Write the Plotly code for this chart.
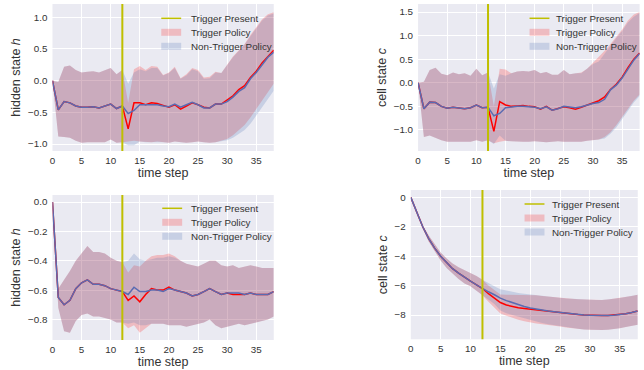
import plotly.graph_objects as go

W, H = 644, 370
steps = list(range(39))
trigger_step = 12

# ---------------- Panel 1: hidden state h (top) ----------------
non_mean1 = [0.00,-0.46,-0.33,-0.35,-0.40,-0.42,-0.42,-0.41,-0.43,-0.40,-0.37,-0.44,-0.40,
             -0.52,-0.47,-0.38,-0.38,-0.37,-0.38,-0.40,-0.41,-0.37,-0.42,-0.38,-0.34,-0.38,-0.43,
             -0.43,-0.37,-0.37,-0.33,-0.26,-0.17,-0.11,0.03,0.13,0.26,0.37,0.45]
trig_mean1 = [0.00,-0.46,-0.33,-0.35,-0.40,-0.42,-0.42,-0.41,-0.43,-0.40,-0.37,-0.44,-0.40,
              -0.76,-0.35,-0.35,-0.38,-0.35,-0.36,-0.39,-0.42,-0.38,-0.45,-0.40,-0.35,-0.38,-0.42,
              -0.43,-0.37,-0.37,-0.31,-0.24,-0.14,-0.08,0.05,0.15,0.28,0.38,0.48]
non_hi1 = [0.00,-0.02,0.22,0.24,0.17,0.13,0.14,0.15,0.13,0.17,0.20,0.10,0.17,
           -0.05,0.13,0.18,0.15,0.20,0.20,0.08,0.12,0.20,0.03,0.08,0.18,0.15,0.03,
           0.04,0.13,0.12,0.25,0.37,0.47,0.57,0.70,0.83,0.95,1.03,1.06]
trig_hi1 = [0.00,-0.02,0.22,0.24,0.17,0.13,0.14,0.15,0.13,0.17,0.20,0.10,0.17,
            -0.35,0.18,0.23,0.17,0.23,0.22,0.09,0.13,0.22,0.04,0.10,0.20,0.17,0.05,
            0.06,0.14,0.12,0.25,0.38,0.48,0.58,0.72,0.85,0.97,1.05,1.08]
non_lo1 = [0.00,-0.88,-0.89,-0.90,-0.95,-0.98,-0.97,-0.97,-0.98,-0.97,-0.93,-0.98,-0.97,
           -1.02,-1.02,-0.96,-0.97,-0.97,-0.96,-0.97,-0.98,-0.96,-0.97,-0.98,-0.97,-0.96,-0.97,
           -0.98,-0.97,-0.96,-0.94,-0.90,-0.84,-0.78,-0.68,-0.55,-0.42,-0.28,-0.16]
trig_lo1 = [0.00,-0.88,-0.89,-0.90,-0.95,-0.98,-0.97,-0.97,-0.98,-0.97,-0.93,-0.98,-0.97,
            -0.96,-0.95,-0.96,-0.97,-0.97,-0.96,-0.97,-0.98,-0.96,-0.97,-0.98,-0.97,-0.96,-0.97,
            -0.98,-0.97,-0.95,-0.92,-0.86,-0.78,-0.70,-0.58,-0.45,-0.32,-0.18,-0.05]

# ---------------- Panel 2: cell state c (top) ----------------
non_mean2 = [0.00,-0.55,-0.41,-0.42,-0.50,-0.54,-0.52,-0.54,-0.55,-0.53,-0.47,-0.53,-0.52,
             -0.70,-0.65,-0.53,-0.51,-0.50,-0.50,-0.51,-0.52,-0.55,-0.51,-0.58,-0.55,-0.50,-0.52,
             -0.53,-0.51,-0.47,-0.44,-0.42,-0.35,-0.15,-0.05,0.10,0.30,0.48,0.62]
trig_mean2 = [0.00,-0.55,-0.41,-0.42,-0.50,-0.54,-0.52,-0.54,-0.55,-0.53,-0.47,-0.53,-0.52,
              -1.03,-0.40,-0.47,-0.50,-0.49,-0.48,-0.50,-0.51,-0.56,-0.50,-0.58,-0.55,-0.51,-0.53,
              -0.56,-0.52,-0.47,-0.43,-0.38,-0.30,-0.14,-0.03,0.12,0.32,0.50,0.63]
non_hi2 = [0.00,0.02,0.27,0.32,0.19,0.16,0.22,0.18,0.20,0.15,0.30,0.16,0.22,
           -0.12,0.18,0.15,0.20,0.24,0.25,0.24,0.27,0.20,0.23,0.17,0.17,0.27,0.18,
           0.20,0.20,0.30,0.40,0.45,0.62,0.78,0.95,1.10,1.28,1.40,1.48]
trig_hi2 = [0.00,0.02,0.27,0.32,0.19,0.16,0.22,0.18,0.20,0.15,0.30,0.16,0.22,
            -0.50,0.30,0.28,0.20,0.24,0.25,0.24,0.27,0.20,0.23,0.17,0.17,0.27,0.18,
            0.20,0.22,0.30,0.42,0.55,0.68,0.82,0.98,1.13,1.32,1.45,1.50]
non_lo2 = [0.00,-1.15,-1.12,-1.17,-1.22,-1.25,-1.25,-1.25,-1.26,-1.25,-1.22,-1.25,-1.22,
           -1.30,-1.12,-1.23,-1.24,-1.25,-1.25,-1.25,-1.24,-1.25,-1.26,-1.25,-1.24,-1.25,-1.25,
           -1.24,-1.25,-1.23,-1.22,-1.20,-1.18,-1.08,-0.95,-0.78,-0.60,-0.42,-0.28]
trig_lo2 = [0.00,-1.15,-1.12,-1.17,-1.22,-1.25,-1.25,-1.25,-1.26,-1.25,-1.22,-1.25,-1.22,
            -1.28,-1.25,-1.23,-1.24,-1.25,-1.25,-1.25,-1.24,-1.25,-1.26,-1.25,-1.24,-1.25,-1.25,
            -1.24,-1.25,-1.23,-1.22,-1.20,-1.15,-1.05,-0.90,-0.72,-0.55,-0.38,-0.25]

# ---------------- Panel 3: hidden state h (bottom) ----------------
non_mean3 = [0.00,-0.65,-0.70,-0.67,-0.59,-0.55,-0.53,-0.56,-0.56,-0.57,-0.59,-0.60,-0.61,
             -0.63,-0.58,-0.61,-0.61,-0.60,-0.60,-0.61,-0.59,-0.60,-0.61,-0.62,-0.64,-0.63,-0.61,
             -0.59,-0.61,-0.63,-0.62,-0.62,-0.62,-0.63,-0.62,-0.63,-0.63,-0.63,-0.61]
trig_mean3 = [0.00,-0.65,-0.70,-0.67,-0.59,-0.55,-0.53,-0.56,-0.56,-0.57,-0.59,-0.60,-0.61,
              -0.67,-0.64,-0.68,-0.63,-0.59,-0.60,-0.60,-0.58,-0.60,-0.61,-0.62,-0.64,-0.63,-0.61,
              -0.59,-0.61,-0.63,-0.62,-0.63,-0.63,-0.63,-0.62,-0.63,-0.63,-0.63,-0.61]
non_hi3 = [0.00,-0.59,-0.53,-0.47,-0.40,-0.35,-0.30,-0.34,-0.34,-0.35,-0.38,-0.40,-0.41,
           -0.40,-0.35,-0.39,-0.40,-0.39,-0.38,-0.38,-0.37,-0.38,-0.40,-0.42,-0.43,-0.44,-0.42,
           -0.40,-0.40,-0.43,-0.44,-0.43,-0.45,-0.44,-0.43,-0.44,-0.45,-0.45,-0.45]
trig_hi3 = [0.00,-0.59,-0.53,-0.47,-0.40,-0.35,-0.30,-0.34,-0.34,-0.35,-0.38,-0.40,-0.41,
            -0.48,-0.43,-0.44,-0.40,-0.37,-0.36,-0.36,-0.35,-0.37,-0.40,-0.42,-0.43,-0.44,-0.42,
            -0.40,-0.40,-0.43,-0.44,-0.43,-0.45,-0.44,-0.43,-0.44,-0.45,-0.45,-0.45]
non_lo3 = [0.00,-0.72,-0.88,-0.89,-0.81,-0.77,-0.76,-0.78,-0.78,-0.79,-0.80,-0.82,-0.82,
           -0.83,-0.82,-0.84,-0.84,-0.83,-0.83,-0.83,-0.84,-0.84,-0.84,-0.85,-0.84,-0.83,-0.82,
           -0.80,-0.84,-0.86,-0.85,-0.84,-0.83,-0.84,-0.83,-0.82,-0.81,-0.80,-0.78]
trig_lo3 = [0.00,-0.72,-0.88,-0.89,-0.81,-0.77,-0.76,-0.78,-0.78,-0.79,-0.80,-0.82,-0.82,
            -0.86,-0.84,-0.89,-0.86,-0.83,-0.83,-0.83,-0.84,-0.84,-0.84,-0.85,-0.84,-0.83,-0.82,
            -0.80,-0.84,-0.86,-0.85,-0.84,-0.83,-0.84,-0.83,-0.82,-0.81,-0.80,-0.78]

# ---------------- Panel 4: cell state c (bottom) ----------------
non_mean4 = [0.0,-1.05,-2.0,-2.8,-3.45,-4.0,-4.45,-4.85,-5.15,-5.45,-5.7,-5.95,-6.2,
             -6.42,-6.62,-6.85,-7.02,-7.17,-7.3,-7.42,-7.52,-7.6,-7.67,-7.73,-7.78,-7.83,-7.88,
             -7.92,-7.96,-7.99,-8.02,-8.04,-8.04,-8.03,-8.01,-7.98,-7.92,-7.83,-7.72]
trig_mean4 = [0.0,-1.05,-2.0,-2.8,-3.45,-4.0,-4.45,-4.85,-5.15,-5.45,-5.7,-5.95,-6.2,
              -6.55,-6.85,-7.15,-7.32,-7.42,-7.5,-7.55,-7.6,-7.65,-7.7,-7.75,-7.79,-7.83,-7.88,
              -7.92,-7.96,-7.99,-8.02,-8.04,-8.04,-8.03,-8.01,-7.98,-7.92,-7.83,-7.72]
non_hi4 = [0.0,-1.0,-1.9,-2.6,-3.2,-3.75,-4.15,-4.5,-4.75,-4.95,-5.1,-5.35,-5.6,
           -5.85,-6.05,-6.25,-6.35,-6.42,-6.5,-6.55,-6.6,-6.65,-6.7,-6.75,-6.8,-6.85,-6.88,
           -6.9,-6.93,-6.95,-6.96,-6.97,-6.97,-6.95,-6.9,-6.85,-6.78,-6.7,-6.62]
trig_hi4 = [0.0,-1.0,-1.9,-2.6,-3.2,-3.75,-4.15,-4.5,-4.75,-4.95,-5.1,-5.35,-5.6,
            -6.0,-6.3,-6.6,-6.62,-6.62,-6.62,-6.62,-6.63,-6.66,-6.7,-6.75,-6.8,-6.85,-6.88,
            -6.9,-6.93,-6.95,-6.96,-6.97,-6.97,-6.95,-6.9,-6.85,-6.78,-6.7,-6.62]
non_lo4 = [0.0,-1.1,-2.1,-3.0,-3.7,-4.3,-4.8,-5.2,-5.55,-5.85,-6.05,-6.35,-6.65,
           -6.95,-7.25,-7.7,-7.88,-8.0,-8.12,-8.22,-8.35,-8.45,-8.55,-8.63,-8.7,-8.78,-8.84,
           -8.9,-8.94,-8.98,-9.0,-9.02,-9.02,-9.0,-8.96,-8.9,-8.82,-8.74,-8.66]
trig_lo4 = [0.0,-1.1,-2.1,-3.0,-3.7,-4.3,-4.8,-5.2,-5.55,-5.85,-6.05,-6.35,-6.65,
            -7.1,-7.5,-7.9,-8.05,-8.2,-8.32,-8.42,-8.52,-8.58,-8.62,-8.66,-8.72,-8.78,-8.84,
            -8.9,-8.94,-8.98,-9.0,-9.02,-9.02,-9.0,-8.96,-8.9,-8.82,-8.74,-8.66]

x_ticks = [0, 5, 10, 15, 20, 25, 30, 35]
y_ticks1 = [-1.0, -0.5, 0.0, 0.5, 1.0]
y_ticks2 = [-1.0, -0.5, 0.0, 0.5, 1.0, 1.5]
y_ticks3 = [-0.8, -0.6, -0.4, -0.2, 0.0]
y_ticks4 = [-8, -6, -4, -2, 0]
y_titles = ["hidden state <i>h</i>", "cell state <i>c</i>", "hidden state <i>h</i>", "cell state <i>c</i>"]
legend_labels = ["Trigger Present", "Trigger Policy", "Non-Trigger Policy"]

RED = "#FF0000"
BLUE = "#5A6BB2"
RED_FILL = "rgba(255,0,0,0.2)"
BLUE_FILL = "rgba(76,114,176,0.22)"
TRIG_COLOR = "#BFBF00"
TXT = "#333333"
FONT = "Liberation Sans, Arial, sans-serif"

panels = [
    dict(nm=non_mean1, tm=trig_mean1, nh=non_hi1, th=trig_hi1, nl=non_lo1, tl=trig_lo1,
         yt=y_ticks1, fmt=".1f", rng=[-1.11, 1.21], px=(49.7, 272), py=(4, 151),
         leg=(159, 187, 18.3)),
    dict(nm=non_mean2, tm=trig_mean2, nh=non_hi2, th=trig_hi2, nl=non_lo2, tl=trig_lo2,
         yt=y_ticks2, fmt=".1f", rng=[-1.446, 1.67], px=(417, 639.6), py=(4, 151),
         leg=(529, 554, 18.3)),
    dict(nm=non_mean3, tm=trig_mean3, nh=non_hi3, th=trig_hi3, nl=non_lo3, tl=trig_lo3,
         yt=y_ticks3, fmt=".1f", rng=[-0.94, 0.048], px=(49.7, 272), py=(195, 340),
         leg=(160, 187, 208.3)),
    dict(nm=non_mean4, tm=trig_mean4, nh=non_hi4, th=trig_hi4, nl=non_lo4, tl=trig_lo4,
         yt=y_ticks4, fmt="d", rng=[-9.65, 0.5], px=(409.7, 637.7), py=(190, 339.3),
         leg=(524, 550, 204)),
]

fig = go.Figure()
shapes = []
annotations = []

def fx(p):
    return p / W

def fy(p):
    return 1 - p / H

for i, p in enumerate(panels):
    k = "" if i == 0 else str(i + 1)
    xa, ya = "x" + k, "y" + k
    # Trigger policy band
    fig.add_trace(go.Scatter(x=steps, y=p["tl"], mode="lines", line=dict(width=0),
                             xaxis=xa, yaxis=ya, showlegend=False, hoverinfo="skip"))
    fig.add_trace(go.Scatter(x=steps, y=p["th"], mode="lines", line=dict(width=0),
                             fill="tonexty", fillcolor=RED_FILL,
                             xaxis=xa, yaxis=ya, showlegend=False, hoverinfo="skip"))
    # Non-trigger policy band
    fig.add_trace(go.Scatter(x=steps, y=p["nl"], mode="lines", line=dict(width=0),
                             xaxis=xa, yaxis=ya, showlegend=False, hoverinfo="skip"))
    fig.add_trace(go.Scatter(x=steps, y=p["nh"], mode="lines", line=dict(width=0),
                             fill="tonexty", fillcolor=BLUE_FILL,
                             xaxis=xa, yaxis=ya, showlegend=False, hoverinfo="skip"))
    # mean lines
    fig.add_trace(go.Scatter(x=steps, y=p["tm"], mode="lines", line=dict(color=RED, width=1.5),
                             xaxis=xa, yaxis=ya, showlegend=False))
    fig.add_trace(go.Scatter(x=steps, y=p["nm"], mode="lines", line=dict(color=BLUE, width=1.5),
                             xaxis=xa, yaxis=ya, showlegend=False))
    # trigger line
    shapes.append(dict(type="line", xref=xa, yref=ya + " domain", x0=trigger_step, x1=trigger_step,
                       y0=0, y1=1, line=dict(color=TRIG_COLOR, width=2), layer="above"))

    x0, x1 = fx(p["px"][0]), fx(p["px"][1])
    y0, y1 = fy(p["py"][1]), fy(p["py"][0])
    fig.layout["xaxis" + k] = dict(
        domain=[x0, x1], range=[0, 38], anchor=ya, tickvals=x_ticks,
        showgrid=True, gridcolor="white", gridwidth=1, zeroline=False, showline=False,
        ticks="", tickfont=dict(size=9.8, color=TXT, family=FONT), ticklabelstandoff=2,
        title=dict(text="time step", font=dict(size=12.5, color=TXT, family=FONT), standoff=1),
    )
    fig.layout["yaxis" + k] = dict(
        domain=[y0, y1], range=p["rng"], anchor=xa, tickvals=p["yt"], tickformat=p["fmt"],
        showgrid=True, gridcolor="white", gridwidth=1, zeroline=False, showline=False,
        ticks="", tickfont=dict(size=9.8, color=TXT, family=FONT), ticklabelstandoff=4,
        title=dict(text=y_titles[i], font=dict(size=12.5, color=TXT, family=FONT), standoff=4),
    )

    # manual legend
    sx, tx, ry = p["leg"]
    gap = 14
    shapes.append(dict(type="line", xref="paper", yref="paper", x0=fx(sx), x1=fx(sx + 20),
                       y0=fy(ry), y1=fy(ry), line=dict(color=TRIG_COLOR, width=1.5), layer="above"))
    shapes.append(dict(type="rect", xref="paper", yref="paper", x0=fx(sx), x1=fx(sx + 20),
                       y0=fy(ry + gap + 3.5), y1=fy(ry + gap - 3.5), line=dict(width=0),
                       fillcolor=RED_FILL, layer="above"))
    shapes.append(dict(type="rect", xref="paper", yref="paper", x0=fx(sx), x1=fx(sx + 20),
                       y0=fy(ry + 2 * gap + 3.5), y1=fy(ry + 2 * gap - 3.5), line=dict(width=0),
                       fillcolor=BLUE_FILL, layer="above"))
    for j, lab in enumerate(legend_labels):
        annotations.append(dict(text=lab, xref="paper", yref="paper", x=fx(tx), y=fy(ry + j * gap),
                                xanchor="left", yanchor="middle", showarrow=False,
                                font=dict(size=9.8, color=TXT, family=FONT)))

fig.update_layout(
    width=W, height=H, autosize=False,
    margin=dict(l=0, r=0, t=0, b=0),
    paper_bgcolor="white", plot_bgcolor="#EAEAF2",
    shapes=shapes, annotations=annotations, showlegend=False,
    font=dict(family=FONT, color=TXT),
)

fig.write_html("out.html")
